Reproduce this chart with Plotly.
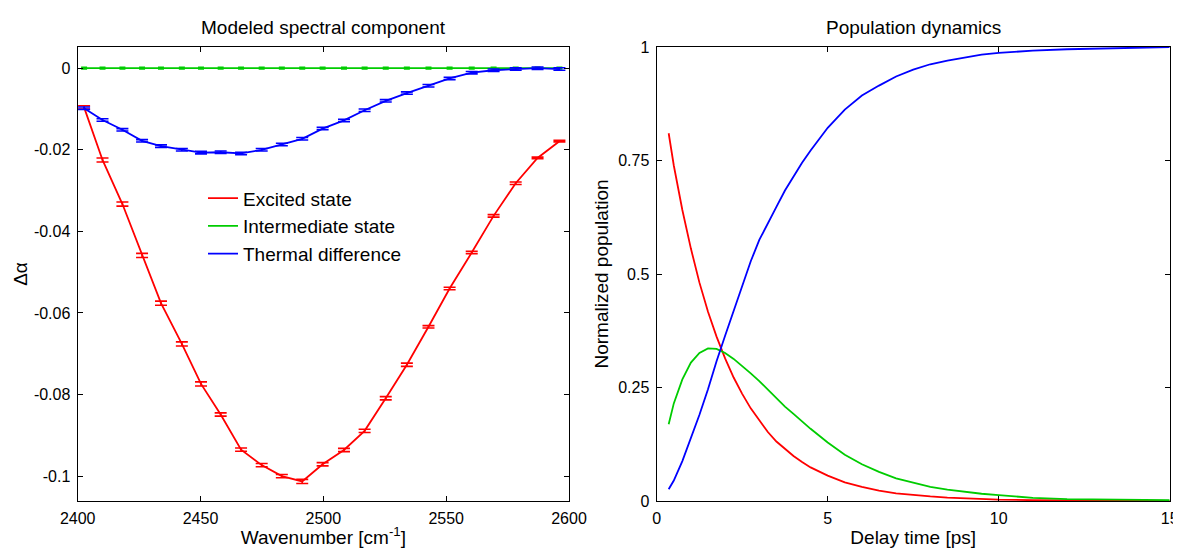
import plotly.graph_objects as go

# ---------------- Left panel data: modeled spectral components ----------------
wavenumber = [2402.6, 2410.1, 2418.2, 2426.2, 2433.9, 2442.4, 2450.2, 2458.2,
              2466.5, 2474.9, 2483.1, 2491.4, 2499.7, 2508.4, 2516.8, 2525.4,
              2534.0, 2542.8, 2551.4, 2560.4, 2569.3, 2578.3, 2587.2, 2596.1]

excited = [-0.0096, -0.0225, -0.0333, -0.0459, -0.0576, -0.0676, -0.0774, -0.0849,
           -0.0935, -0.0973, -0.1000, -0.1013, -0.0971, -0.0936, -0.0889, -0.0809,
           -0.0727, -0.0634, -0.0540, -0.0452, -0.0362, -0.0282, -0.0220, -0.0179]
excited_err = [0.0004, 0.0005, 0.0005, 0.0005, 0.0005, 0.0005, 0.0005, 0.0004,
               0.0004, 0.0004, 0.0004, 0.0005, 0.0004, 0.0004, 0.0004, 0.0004,
               0.0004, 0.0003, 0.0003, 0.0003, 0.0003, 0.0003, 0.0002, 0.0002]

intermediate = [0.0] * 24
intermediate_err = [0.00015] * 24

thermal = [-0.0098, -0.0127, -0.0151, -0.0178, -0.0191, -0.0200, -0.0207, -0.0206,
           -0.0209, -0.0200, -0.0187, -0.0173, -0.0148, -0.0128, -0.0103, -0.0080,
           -0.0061, -0.0043, -0.0025, -0.0011, -0.0005, -0.0002, 0.0000, -0.0002]
thermal_err = [0.0003] * 24

# ---------------- Right panel data: population dynamics ----------------
delay = [0.35, 0.5, 0.75, 1.0, 1.25, 1.5, 1.75, 2.0, 2.25, 2.5, 2.75, 3.0, 3.25,
         3.5, 3.75, 4.0, 4.25, 4.5, 5.0, 5.5, 6.0, 6.5, 7.0, 7.5, 8.0, 8.5, 9.0,
         9.5, 10.0, 11.0, 12.0, 13.0, 14.0, 15.0]

pop_excited = [0.810, 0.739, 0.641, 0.556, 0.481, 0.417, 0.362, 0.314, 0.272, 0.236,
               0.204, 0.177, 0.152, 0.131, 0.114, 0.099, 0.086, 0.074, 0.056, 0.041,
               0.031, 0.023, 0.017, 0.013, 0.010, 0.0075, 0.0055, 0.004, 0.003,
               0.0018, 0.001, 0.0006, 0.0003, 0.0002]

pop_intermediate = [0.169, 0.215, 0.268, 0.305, 0.326, 0.336, 0.335, 0.326, 0.313,
                    0.298, 0.281, 0.264, 0.245, 0.226, 0.208, 0.192, 0.175, 0.159,
                    0.129, 0.102, 0.081, 0.064, 0.050, 0.040, 0.031, 0.025, 0.020,
                    0.016, 0.013, 0.007, 0.004, 0.003, 0.002, 0.002]

pop_thermal = [0.026, 0.045, 0.088, 0.138, 0.190, 0.246, 0.308, 0.364, 0.420, 0.475,
               0.528, 0.575, 0.613, 0.648, 0.684, 0.716, 0.745, 0.772, 0.822, 0.862,
               0.893, 0.915, 0.935, 0.950, 0.962, 0.970, 0.977, 0.983, 0.987, 0.992,
               0.995, 0.997, 0.999, 1.000]

x_ticks_left = [2400, 2450, 2500, 2550, 2600]
y_ticks_left = [0, -0.02, -0.04, -0.06, -0.08, -0.1]
y_ticklabels_left = ["0", "-0.02", "-0.04", "-0.06", "-0.08", "-0.1"]
x_ticks_right = [0, 5, 10, 15]
y_ticks_right = [0, 0.25, 0.5, 0.75, 1]
y_ticklabels_right = ["0", "0.25", "0.5", "0.75", "1"]

RED = "#FF0000"
GREEN = "#00CC00"
BLUE = "#0000FF"
FONT = "Liberation Sans, Arial, Helvetica, sans-serif"

fig = go.Figure()

# Left panel traces
fig.add_trace(go.Scatter(
    x=wavenumber, y=excited, mode="lines", name="Excited state",
    line=dict(color=RED, width=1.8),
    error_y=dict(type="data", array=excited_err, color=RED, thickness=1.6, width=6),
    xaxis="x", yaxis="y"))
fig.add_trace(go.Scatter(
    x=wavenumber, y=intermediate, mode="lines", name="Intermediate state",
    line=dict(color=GREEN, width=1.8),
    error_y=dict(type="data", array=intermediate_err, color=GREEN, thickness=2, width=3),
    xaxis="x", yaxis="y"))
fig.add_trace(go.Scatter(
    x=wavenumber, y=thermal, mode="lines", name="Thermal difference",
    line=dict(color=BLUE, width=1.8),
    error_y=dict(type="data", array=thermal_err, color=BLUE, thickness=1.6, width=6),
    xaxis="x", yaxis="y"))

# Right panel traces
fig.add_trace(go.Scatter(x=delay, y=pop_excited, mode="lines", showlegend=False,
                         line=dict(color=RED, width=1.8), xaxis="x2", yaxis="y2"))
fig.add_trace(go.Scatter(x=delay, y=pop_intermediate, mode="lines", showlegend=False,
                         line=dict(color=GREEN, width=1.8), xaxis="x2", yaxis="y2"))
fig.add_trace(go.Scatter(x=delay, y=pop_thermal, mode="lines", showlegend=False,
                         line=dict(color=BLUE, width=1.8), xaxis="x2", yaxis="y2"))

# The page body has an 8 px margin, so the figure starts at page (8, 8).
OFF = 8
W, H = 1181 - OFF, 548 - OFF
ML, MR, MT, MB = 2, 2, 46.7 - OFF, 47.3
PW = W - ML - MR
PH = H - MT - MB


def px_x(p):
    """page x pixel -> paper fraction"""
    return (p - OFF - ML) / PW


def px_y(p):
    """page y pixel -> paper fraction"""
    return 1 - (p - OFF - MT) / PH


def dom(a, b):
    return [px_x(a), min(px_x(b), 1.0)]


axis_common = dict(
    showline=True, linecolor="black", linewidth=1.3, mirror="ticks",
    ticks="inside", ticklen=5, tickwidth=1, tickcolor="black",
    showgrid=False, zeroline=False, automargin=False,
    tickfont=dict(family=FONT, size=16, color="black"),
    ticklabelstandoff=3, ticklabeloverflow="allow",
)

fig.update_layout(
    template="none",
    width=W, height=H,
    margin=dict(l=ML, r=MR, t=MT, b=MB, pad=0, autoexpand=False),
    paper_bgcolor="white", plot_bgcolor="white",
    font=dict(family=FONT, color="black"),
    xaxis=dict(domain=dom(77.7, 569.0), range=[2400, 2600], tickvals=x_ticks_left,
               title=dict(text="Wavenumber [cm<sup>-1</sup>]",
                          font=dict(family=FONT, size=19, color="black"), standoff=5),
               anchor="y", **axis_common),
    yaxis=dict(domain=[0, 1], range=[-0.1061, 0.0052], tickvals=y_ticks_left,
               ticktext=y_ticklabels_left,
               title=dict(text="Δα", font=dict(family=FONT, size=19, color="black"), standoff=1),
               anchor="x", **axis_common),
    xaxis2=dict(domain=dom(656.7, 1169.7), range=[0, 15], tickvals=x_ticks_right,
                title=dict(text="Delay time [ps]",
                           font=dict(family=FONT, size=19, color="black"), standoff=4),
                anchor="y2", **axis_common),
    yaxis2=dict(domain=[0, 1], range=[0, 1], tickvals=y_ticks_right,
                ticktext=y_ticklabels_right,
                title=dict(text="Normalized population",
                           font=dict(family=FONT, size=19, color="black"), standoff=4),
                anchor="x2", **axis_common),
    legend=dict(x=px_x(203), y=px_y(179),
                xanchor="left", yanchor="top",
                bgcolor="rgba(0,0,0,0)", borderwidth=0,
                font=dict(family=FONT, size=19, color="black"),
                tracegroupgap=0),
    showlegend=True,
    annotations=[
        dict(text="Modeled spectral component", x=px_x(323.3), y=px_y(27),
             xref="paper", yref="paper", xanchor="center", yanchor="middle",
             showarrow=False, font=dict(family=FONT, size=19, color="black")),
        dict(text="Population dynamics", x=px_x(913.2), y=px_y(27),
             xref="paper", yref="paper", xanchor="center", yanchor="middle",
             showarrow=False, font=dict(family=FONT, size=19, color="black")),
    ],
)

fig.write_html("out.html")
